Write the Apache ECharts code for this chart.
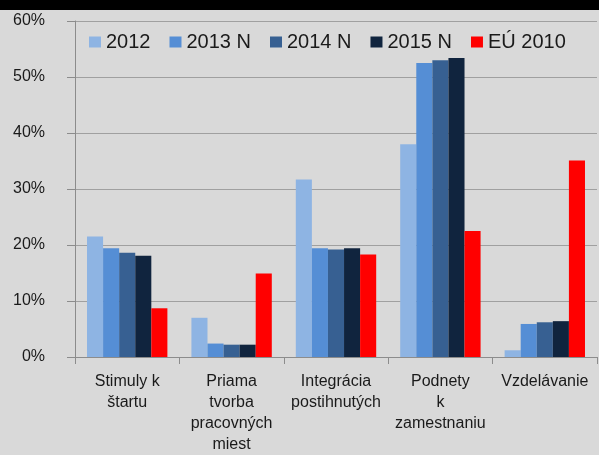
<!DOCTYPE html>
<html>
<head>
<meta charset="utf-8">
<script src="https://cdn.jsdelivr.net/npm/echarts@6/dist/echarts.min.js"></script>
<style>
  html, body { margin: 0; padding: 0; background: #d9d9d9; }
  #chart { width: 599px; height: 455px; }
</style>
</head>
<body>
<div id="chart"></div>
<script>
const categories = ['Stimuly k\nštartu', 'Priama\ntvorba\npracovných\nmiest', 'Integrácia\npostihnutých', 'Podnety\nk\nzamestnaniu', 'Vzdelávanie'];
const seriesNames = ['2012', '2013 N', '2014 N', '2015 N', 'EÚ 2010'];
const colors = ['#8eb4e3', '#558ed5', '#376092', '#10243e', '#ff0000'];

const v2012 = [21.5, 7.0, 31.7, 38.0, 1.2];
const v2013 = [19.4, 2.4, 19.4, 52.5, 5.9];
const v2014 = [18.6, 2.2, 19.2, 53.0, 6.2];
const v2015 = [18.1, 2.2, 19.4, 53.4, 6.4];
const vEU = [8.7, 14.9, 18.3, 22.5, 35.1];

const values = [v2012, v2013, v2014, v2015, vEU];

let chartElement = document.getElementById('chart');
let chart = echarts.init(chartElement);

let option = {
    backgroundColor: '#d9d9d9',
    animation: false,
    textStyle: { fontFamily: 'Liberation Sans, Arial, sans-serif' },
    graphic: [
        {
            type: 'rect',
            left: 0,
            top: 0,
            shape: { width: 599, height: 10 },
            style: { fill: '#000' }
        }
    ],
    legend: {
        left: 84,
        top: 27,
        itemWidth: 12,
        itemHeight: 11,
        itemGap: 19,
        icon: 'rect',
        textStyle: { fontSize: 20, color: '#1a1a1a' },
        data: seriesNames
    },
    grid: {
        left: 75,
        right: 2,
        top: 21,
        bottom: 96
    },
    xAxis: {
        type: 'category',
        data: categories,
        axisLine: { lineStyle: { color: '#8c8c8c', width: 1 } },
        axisTick: { show: true, length: 7, lineStyle: { color: '#8c8c8c' } },
        axisLabel: {
            fontSize: 16,
            color: '#1a1a1a',
            lineHeight: 21,
            margin: 14,
            interval: 0
        }
    },
    yAxis: {
        type: 'value',
        min: 0,
        max: 60,
        interval: 10,
        axisLine: { show: true, lineStyle: { color: '#8c8c8c', width: 1 } },
        axisTick: { show: true, length: 8, lineStyle: { color: '#8c8c8c' } },
        axisLabel: {
            fontSize: 16,
            color: '#1a1a1a',
            margin: 30,
            formatter: '{value}%'
        },
        splitLine: { lineStyle: { color: '#a0a0a0', width: 1 } }
    },
    series: seriesNames.map((name, i) => ({
        name: name,
        type: 'bar',
        data: values[i],
        barGap: '0%',
        barCategoryGap: '23%',
        itemStyle: { color: colors[i] }
    }))
};

chart.setOption(option);
</script>
</body>
</html>
